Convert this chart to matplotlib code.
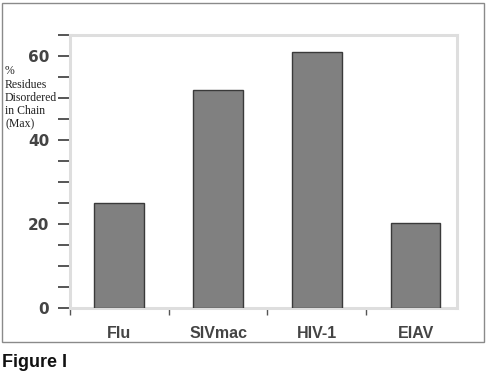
import matplotlib
matplotlib.use("Agg")
import matplotlib.pyplot as plt
from matplotlib.patches import Rectangle

categories = ["Flu", "SIVmac", "HIV-1", "EIAV"]
values = [25, 52, 61, 20.2]
y_major_labels = [0, 20, 40, 60]
y_all_ticks = list(range(0, 66, 5))
ylabel_text = "%\nResidues\nDisordered\nin Chain\n(Max)"

fig = plt.figure(figsize=(4.86, 3.72), dpi=100)
W, H = 486, 372

# outer frame
fig.patches.append(Rectangle((2 / W, 1 - 342 / H), 482 / W, 339 / H,
                             transform=fig.transFigure, fill=False,
                             edgecolor="#8a8a8a", linewidth=1.0))

ax = fig.add_axes([70 / W, 1 - 308 / H, 387 / W, 273 / H])
x = list(range(len(categories)))
ax.bar(x, values, width=0.505, color="#808080", edgecolor="#3a3a3a", linewidth=1.0, zorder=3)
ax.set_xlim(-0.485, 3.42)
ax.set_ylim(0, 65)

for s in ax.spines.values():
    s.set_color("#dedede")
    s.set_linewidth(2.2)

ax.set_yticks(y_all_ticks)
ax.set_yticklabels([str(v) if v in y_major_labels else "" for v in y_all_ticks])
ax.tick_params(axis="y", direction="out", length=9, width=1.4, color="#555555",
               pad=6, labelsize=11, labelcolor="#444444")
for t in ax.get_yticklabels():
    t.set_fontweight("bold")

ax.set_xticks([-0.5, 0.5, 1.5, 2.5])
ax.set_xticklabels([])
ax.tick_params(axis="x", direction="out", length=5, width=1.0, color="#555555")
ax.set_xticks(x, minor=True)
ax.set_xticklabels(categories, minor=True)
ax.tick_params(axis="x", which="minor", length=0, pad=13, labelsize=11.5, labelcolor="#444444")
for t in ax.get_xticklabels(minor=True):
    t.set_fontweight("semibold")
    t.set_fontfamily("Liberation Sans")

fig.text(5 / W, 1 - 98 / H, ylabel_text, fontsize=8.5, family="Liberation Serif",
         ha="left", va="center", linespacing=1.15, color="#222222")

fig.text(2 / W, 1 - 371 / H, "Figure I", fontsize=13, fontweight="bold",
         family="Liberation Sans", ha="left", va="bottom", color="#111111")

fig.savefig("out.png", dpi=100)
